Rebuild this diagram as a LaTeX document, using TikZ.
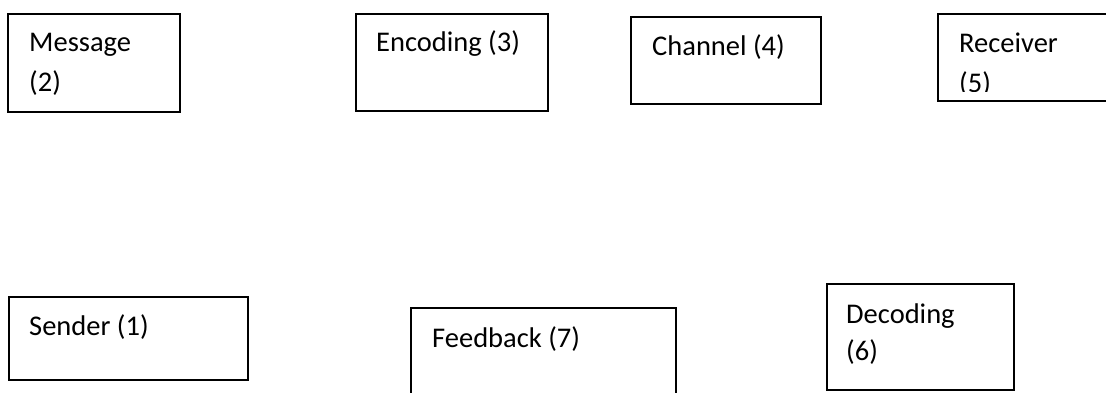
\documentclass[tikz,border=0pt]{standalone}
\usepackage{fontspec}
\setmainfont{Carlito}
\usetikzlibrary{positioning}
\tikzset{
  box/.style = {rectangle, draw=black, line width=1.6pt, inner sep=0pt,
    anchor=north west},% plain frame
  boxtext/.style = {anchor=base west, inner sep=0pt,
    font=\fontsize{28.5}{39}\selectfont}% label inside a frame
}

\begin{document}
\begin{tikzpicture}[x=1pt,y=-1pt]
\useasboundingbox (0,0) rectangle (1106,393);
\clip (0,0) rectangle (1106,393);
% top row
\node [box, minimum width=172pt, minimum height=98pt] (message) at (7,13) {};
\node [box, minimum width=192pt, minimum height=97pt] (encoding) at (355,13) {};
\node [box, minimum width=190pt, minimum height=87pt] (channel) at (630,16) {};
\node [box, minimum width=180pt, minimum height=87pt] (receiver) at (937,13) {};
% bottom row
\node [box, minimum width=239pt, minimum height=83pt] (sender) at (8,296) {};
\node [box, minimum width=265pt, minimum height=100pt] (feedback) at (410,307) {};
\node [box, minimum width=187pt, minimum height=106pt] (decoding) at (826,283) {};
% labels
\node [boxtext] (message_t) at ([shift={(22pt,-39pt)}]message.north west) {Message};
\node [boxtext] (message_n) at ([yshift=-40pt]message_t.base west) {(2)};
\node [boxtext] (encoding_t) at ([shift={(21pt,-39pt)}]encoding.north west) {Encoding (3)};
\node [boxtext] (channel_t) at ([shift={(22pt,-40pt)}]channel.north west) {Channel (4)};
\node [boxtext] (receiver_t) at ([shift={(22pt,-40pt)}]receiver.north west) {Receiver};
\begin{scope}
  \clip (receiver.north west) rectangle ([yshift=10pt]receiver.south east);
  \node [boxtext] (receiver_n) at ([yshift=-40pt]receiver_t.base west) {(5)};
\end{scope}
\node [boxtext] (sender_t) at ([shift={(21pt,-39pt)}]sender.north west) {Sender (1)};
\node [boxtext] (feedback_t) at ([shift={(22pt,-40pt)}]feedback.north west) {Feedback (7)};
\node [boxtext] (decoding_t) at ([shift={(20pt,-40pt)}]decoding.north west) {Decoding};
\node [boxtext] (decoding_n) at ([yshift=-37pt]decoding_t.base west) {(6)};
\end{tikzpicture}
\end{document}
